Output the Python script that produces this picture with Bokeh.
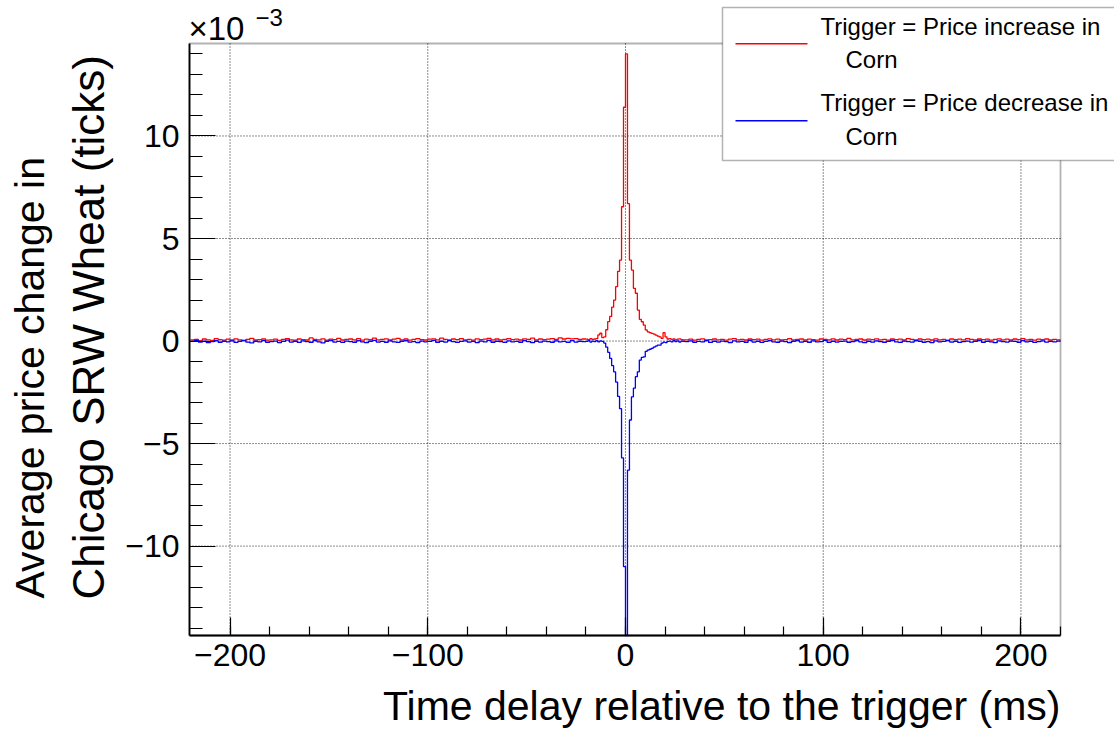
from bokeh.plotting import figure
from bokeh.models import FixedTicker, Range1d, Label, BoxAnnotation
from bokeh.embed import file_html
from bokeh.resources import INLINE

# ---------------- data (values in units of 1e-3 ticks) ----------------
# 2 ms bins from -220 to -20 ms
red_left = [
    0.05, 0.08, 0.02, 0.10, 0.06, 0.03, 0.12, 0.07, 0.04, 0.09,
    0.05, 0.11, 0.06, 0.02, 0.08, 0.13, 0.05, 0.07, 0.10, 0.04,
    0.06, 0.09, 0.03, 0.08, 0.12, 0.06, 0.04, 0.10, 0.07, 0.05,
    0.15, 0.08, 0.06, 0.11, 0.04, 0.09, 0.07, 0.13, 0.05, 0.08,
    0.10, 0.06, 0.12, 0.04, 0.09, 0.07, 0.14, 0.06, 0.08, 0.11,
    0.05, 0.09, 0.13, 0.06, 0.10, 0.04, 0.08, 0.12, 0.07, 0.05,
    0.09, 0.11, 0.06, 0.14, 0.08, 0.05, 0.10, 0.07, 0.12, 0.06,
    0.08, 0.04, 0.11, 0.07, 0.09, 0.13, 0.06, 0.10, 0.05, 0.08,
    0.12, 0.07, 0.09, 0.05, 0.11, 0.08, 0.14, 0.06, 0.10, 0.07,
    0.09, 0.12, 0.08, 0.15, 0.10, 0.13, 0.11, 0.12, 0.08, 0.10,
]
# 1 ms bins from -20 to 30 ms
red_core = [
    0.09, 0.06, 0.12, 0.08, 0.10, 0.12, 0.30, 0.38, 0.17, 0.20,
    0.55, 0.95, 1.20, 1.65, 2.00, 2.65, 3.40, 3.95, 6.55, 11.40,
    14.00, 6.70, 3.95, 3.46, 2.57, 2.33, 1.51, 1.06, 0.94, 0.78,
    0.54, 0.45, 0.41, 0.37, 0.34, 0.29, 0.24, 0.20, 0.13, 0.41,
    0.20, 0.10, 0.12, 0.08, 0.10, 0.06, 0.09, 0.11, 0.07, 0.05,
]
# 2 ms bins from 30 to 220 ms
red_right = [
    0.06, 0.09, 0.04, 0.08, 0.11, 0.05, 0.07, 0.10, 0.06, 0.08,
    0.04, 0.09, 0.12, 0.06, 0.08, 0.05, 0.10, 0.07, 0.09, 0.04,
    0.08, 0.11, 0.06, 0.09, 0.05, 0.07, 0.12, 0.06, 0.08, 0.10,
    0.05, 0.09, 0.07, 0.04, 0.10, 0.08, 0.06, 0.11, 0.05, 0.09,
    0.07, 0.13, 0.06, 0.08, 0.10, 0.05, 0.09, 0.07, 0.11, 0.06,
    0.08, 0.04, 0.10, 0.07, 0.09, 0.05, 0.12, 0.08, 0.06, 0.10,
    0.07, 0.09, 0.05, 0.11, 0.06, 0.08, 0.04, 0.10, 0.07, 0.09,
    0.06, 0.12, 0.08, 0.05, 0.10, 0.07, 0.09, 0.04, 0.08, 0.11,
    0.06, 0.09, 0.05, 0.10, 0.07, 0.12, 0.06, 0.08, 0.04, 0.09,
    0.07, 0.10, 0.05, 0.08, 0.06,
]

blue_left = [
    -0.02, 0.03, -0.05, 0.00, -0.08, -0.03, 0.02, -0.06, -0.01, -0.04,
    0.01, -0.07, -0.02, 0.03, -0.05, -0.09, -0.01, -0.04, 0.02, -0.06,
    -0.03, 0.00, -0.08, -0.02, 0.04, -0.05, -0.01, -0.07, 0.01, -0.03,
    -0.06, 0.02, -0.04, -0.09, -0.01, 0.03, -0.05, -0.02, -0.07, 0.00,
    -0.03, -0.06, 0.02, -0.04, -0.08, -0.01, 0.03, -0.05, -0.02, -0.06,
    0.01, -0.04, -0.07, -0.01, 0.02, -0.05, -0.03, -0.08, 0.00, -0.04,
    -0.02, 0.03, -0.06, -0.01, -0.05, 0.02, -0.03, -0.07, -0.02, 0.01,
    -0.05, -0.02, -0.08, 0.00, -0.04, 0.03, -0.06, -0.01, -0.03, -0.07,
    0.01, -0.04, -0.02, -0.06, 0.02, -0.03, -0.08, -0.01, -0.05, 0.00,
    -0.03, -0.06, 0.01, -0.04, -0.02, -0.07, 0.02, -0.05, -0.01, -0.03,
]
blue_core = [
    -0.02, 0.03, -0.05, 0.00, -0.03, 0.02, -0.04, 0.01, -0.02, -0.10,
    -0.30, -0.55, -0.85, -1.20, -1.50, -2.00, -2.70, -3.30, -5.70, -11.00,
    -14.36, -6.30, -3.85, -2.72, -2.30, -1.74, -1.50, -0.93, -0.80, -0.77,
    -0.50, -0.44, -0.40, -0.36, -0.30, -0.25, -0.20, -0.20, -0.10, -0.05,
    -0.08, -0.02, 0.00, -0.04, 0.02, -0.03, 0.01, -0.05, 0.00, -0.02,
]
blue_right = [
    -0.03, 0.01, -0.06, -0.02, -0.04, 0.02, -0.07, -0.01, -0.05, 0.00,
    -0.03, -0.08, 0.01, -0.04, -0.02, -0.06, 0.03, -0.05, -0.01, -0.07,
    -0.02, 0.02, -0.04, -0.06, 0.00, -0.03, -0.08, -0.01, 0.02, -0.05,
    -0.02, -0.06, 0.01, -0.04, -0.03, 0.03, -0.07, -0.01, -0.05, -0.02,
    0.00, -0.06, -0.03, 0.02, -0.04, -0.08, -0.01, -0.05, 0.01, -0.03,
    -0.06, -0.02, 0.03, -0.04, -0.07, 0.00, -0.03, -0.05, 0.02, -0.01,
    -0.06, -0.03, -0.08, 0.01, -0.04, -0.02, 0.02, -0.05, -0.01, -0.07,
    -0.03, 0.00, -0.05, -0.02, 0.03, -0.06, -0.01, -0.04, -0.08, 0.01,
    -0.03, -0.05, 0.00, -0.02, -0.06, 0.02, -0.04, -0.01, -0.07, -0.03,
    0.01, -0.05, -0.02, -0.04, 0.00,
]

x_major = [-200, -100, 0, 100, 200]
x_labels = ["\u2212200", "\u2212100", "0", "100", "200"]
y_major = [-10, -5, 0, 5, 10]
y_labels = ["\u221210", "\u22125", "0", "5", "10"]
legend_lines = ["Trigger = Price increase in", "Trigger = Price decrease in"]
legend_sub = "Corn"
x_title = "Time delay relative to the trigger (ms)"
y_title = ["Average price change in", "Chicago SRW Wheat (ticks)"]


def step_series(left, core, right):
    xs = ([-220 + 2 * i for i in range(len(left))]
          + [-20 + i for i in range(len(core))]
          + [30 + 2 * i for i in range(len(right))])
    xs.append(xs[-1] + 2)
    ys = list(left) + list(core) + list(right)
    ys.append(ys[-1])
    return xs, ys


# ---------------- layout ----------------
W, H = 1114, 734
L, R, T, B = 189, 1060, 43, 635          # visible plot box in canvas px
XLO, XHI, YLO, YHI = -220.5, 220.0, -14.36, 14.51
sx_per = (R - L) / (XHI - XLO)
sy_per = (B - T) / (YHI - YLO)
x_range = Range1d(XLO - L / sx_per, XHI + (W - R) / sx_per)
y_range = Range1d(YLO - (H - B) / sy_per, YHI + T / sy_per)

FONT = "Liberation Sans"
BASE_SHIFT = 0.36   # empirical baseline correction, in em

p = figure(width=W, height=H, output_backend="svg", toolbar_location=None,
           x_range=x_range, y_range=y_range, min_border=0)
p.title.visible = False
p.background_fill_color = "white"
p.border_fill_color = "white"
p.outline_line_color = None
p.grid.visible = False

p.xaxis.fixed_location = YLO
p.yaxis.fixed_location = XLO
p.xaxis.bounds = (XLO, XHI)
p.yaxis.bounds = (YLO, YHI)

for ax, major, labels, minor, mj_len, mn_len in [
        (p.xaxis[0], x_major, x_labels, list(range(-200, 221, 20)), 18, 9),
        (p.yaxis[0], y_major, y_labels, list(range(-14, 15, 1)), 26, 13)]:
    ax.ticker = FixedTicker(ticks=major, minor_ticks=minor)
    ax.major_label_overrides = {m: l for m, l in zip(major, labels)}
    ax.major_tick_in = mj_len
    ax.major_tick_out = 0
    ax.minor_tick_in = mn_len
    ax.minor_tick_out = 0
    ax.major_tick_line_color = "black"
    ax.minor_tick_line_color = "black"
    ax.major_tick_line_width = 1.2
    ax.minor_tick_line_width = 1.2
    ax.axis_line_color = "black"
    ax.axis_line_width = 1.8
    ax.major_label_text_font = FONT
    ax.major_label_text_font_size = "32px"
    ax.major_label_text_color = "black"
p.xaxis.major_label_standoff = 8
p.yaxis.major_label_standoff = 10

# dotted grid at the major ticks, limited to the plot box
p.segment(x0=x_major, y0=[YLO] * len(x_major), x1=x_major, y1=[YHI] * len(x_major),
          line_color="black", line_dash="1 2", line_width=1, line_alpha=0.9)
p.segment(x0=[XLO] * len(y_major), y0=y_major, x1=[XHI] * len(y_major), y1=y_major,
          line_color="black", line_dash="1 2", line_width=1, line_alpha=0.9)

rx, ry = step_series(red_left, red_core, red_right)
bx, by = step_series(blue_left, blue_core, blue_right)
p.step(rx, ry, mode="after", line_color="#ff0000", line_width=1.3)
p.step(bx, by, mode="after", line_color="#0000ff", line_width=1.3)

# frame box
p.add_layout(BoxAnnotation(left=XLO, right=XHI, bottom=YLO, top=YHI,
                           fill_alpha=0, line_color="black", line_width=1.8,
                           level="annotation"))


def lab(text, x, y, size, rotated=False, **kw):
    """x, y: where the text baseline starts, in canvas px from the top-left."""
    s = float(size.replace("px", ""))
    if rotated:
        x = x - BASE_SHIFT * s
        kw["angle"] = 1.5707963
    else:
        y = y - BASE_SHIFT * s
    return Label(x=x, y=H - y, x_units="screen", y_units="screen", text=text,
                 text_font=FONT, text_font_size=size, text_color="black",
                 text_baseline="alphabetic", **kw)


# axis titles and exponent
p.add_layout(lab(x_title, 1060, 720, "41px", text_align="right"))
p.add_layout(lab(y_title[0], 44, 598, "41px", rotated=True, text_align="left"))
p.add_layout(lab(y_title[1], 104, 599, "44px", rotated=True, text_align="left"))
p.add_layout(lab("\u00d710", 188, 40, "33px", text_align="left"))
p.add_layout(lab("\u22123", 255, 26, "24px", text_align="left"))

# legend
p.add_layout(BoxAnnotation(left=722, right=1130, top=H - 7, bottom=H - 160,
                           left_units="screen", right_units="screen",
                           top_units="screen", bottom_units="screen",
                           fill_color="white", fill_alpha=1.0,
                           line_color="black", line_width=1.5, level="overlay"))
for i, (txt, col) in enumerate(zip(legend_lines, ["#ff0000", "#0000ff"])):
    ly = 43.3 + 77 * i
    p.add_layout(BoxAnnotation(left=735, right=807, top=H - ly + 0.8, bottom=H - ly - 0.8,
                               left_units="screen", right_units="screen",
                               top_units="screen", bottom_units="screen",
                               fill_color=col, fill_alpha=1.0, line_color=None,
                               level="overlay"))
    p.add_layout(lab(txt, 820, 35 + 76 * i, "24px", text_align="left", level="overlay"))
    p.add_layout(lab(legend_sub, 845, 68 + 77 * i, "24px", text_align="left",
                     level="overlay"))

open("out.html", "w").write(file_html(p, INLINE))
